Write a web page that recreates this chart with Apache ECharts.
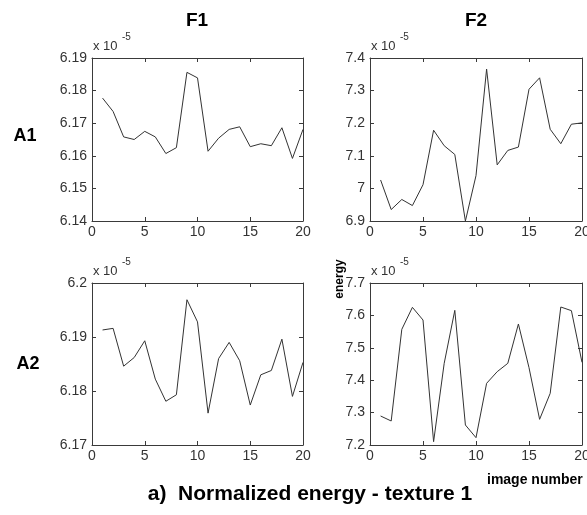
<!DOCTYPE html>
<html>
<head>
<meta charset="utf-8">
<script src="https://cdn.jsdelivr.net/npm/echarts@6/dist/echarts.min.js"></script>
<style>
html,body{margin:0;padding:0;background:#fff;}
#chart{width:587px;height:515px;}
</style>
</head>
<body>
<div id="chart"></div>
<script>
// ---- data (values in units of 1e-5) ----
const imageNumber = [1,2,3,4,5,6,7,8,9,10,11,12,13,14,15,16,17,18,19,20];
const energyF1A1 = [6.1777,6.1736,6.1658,6.1650,6.1675,6.1658,6.1607,6.1625,6.1856,6.1839,6.1614,6.1654,6.1681,6.1689,6.1628,6.1637,6.1631,6.1686,6.1592,6.1681];
const energyF2A1 = [7.0258,6.9351,6.9660,6.9474,7.0113,7.1784,7.1309,7.1041,6.9000,7.0392,7.3660,7.0722,7.1165,7.1268,7.3041,7.3392,7.1814,7.1371,7.1969,7.2010];
const energyF1A2 = [6.1913,6.1916,6.1846,6.1862,6.1893,6.1822,6.1781,6.1793,6.1969,6.1928,6.1759,6.1860,6.1890,6.1856,6.1774,6.1830,6.1838,6.1896,6.1790,6.1853];
const energyF2A2 = [7.2895,7.2741,7.5570,7.6249,7.5858,7.2103,7.4521,7.6156,7.2617,7.2226,7.3903,7.4263,7.4521,7.5735,7.4387,7.2792,7.3595,7.6259,7.6146,7.4551];
const xTicks = [0,5,10,15,20];
const yTicksF1A1 = [6.14,6.15,6.16,6.17,6.18,6.19];
const yTicksF2A1 = [6.9,7.0,7.1,7.2,7.3,7.4];
const yTicksF1A2 = [6.17,6.18,6.19,6.20];
const yTicksF2A2 = [7.2,7.3,7.4,7.5,7.6,7.7];
const colTitles = ['F1','F2'];
const rowTitles = ['A1','A2'];
const scaleNote = 'x 10';
const scaleExp = '-5';

// ---- layout ----
const FONT = "'Liberation Sans', Arial, sans-serif";
const grids = [
  {left:92, top:58, width:211, height:163},
  {left:370, top:58, width:212, height:163},
  {left:92, top:283, width:211, height:162},
  {left:370, top:283, width:212, height:162}
];
const panels = [
  {data: energyF1A1, ticks: yTicksF1A1},
  {data: energyF2A1, ticks: yTicksF2A1},
  {data: energyF1A2, ticks: yTicksF1A2},
  {data: energyF2A2, ticks: yTicksF2A2}
];
const lineCol = '#3a3a3a';
const txtCol = '#333';

function yFmt(v){ return String(+(+v).toFixed(2)); }
function stepOf(t){ return +(t[1]-t[0]).toFixed(4); }

const xAxes = [], yAxes = [], series = [];
panels.forEach((p,i)=>{
  const common = {
    gridIndex:i, type:'value', min:xTicks[0], max:xTicks[xTicks.length-1], interval:xTicks[1]-xTicks[0],
    axisLine:{show:true,onZero:false,lineStyle:{color:lineCol,width:1}},
    axisTick:{show:true,inside:true,length:4,lineStyle:{color:lineCol}},
    splitLine:{show:false}
  };
  xAxes.push(Object.assign({}, common, {position:'bottom',
    axisLabel:{show:true,margin:4,color:txtCol,fontSize:14,fontFamily:FONT}}));
  const ymin = p.ticks[0], ymax = p.ticks[p.ticks.length-1], step = stepOf(p.ticks);
  const ycommon = {
    gridIndex:i, type:'value', min:ymin, max:ymax, interval:step, scale:true,
    axisLine:{show:true,onZero:false,lineStyle:{color:lineCol,width:1}},
    axisTick:{show:true,inside:true,length:4,lineStyle:{color:lineCol}},
    splitLine:{show:false}
  };
  yAxes.push(Object.assign({}, ycommon, {position:'left',
    axisLabel:{show:true,margin:5,color:txtCol,fontSize:14,fontFamily:FONT,formatter:yFmt}}));
  series.push({
    type:'line', xAxisIndex:i, yAxisIndex:i,
    data: imageNumber.map((n,k)=>[n,p.data[k]]),
    showSymbol:false, symbol:'none', clip:true, animation:false,
    lineStyle:{color:'#333',width:1}
  });
});
panels.forEach((p,i)=>{
  xAxes.push({gridIndex:i, type:'value', position:'top', min:xTicks[0], max:xTicks[xTicks.length-1], interval:xTicks[1]-xTicks[0],
    axisLine:{show:true,onZero:false,lineStyle:{color:lineCol,width:1}},
    axisTick:{show:true,inside:true,length:4,lineStyle:{color:lineCol}},
    axisLabel:{show:false}, splitLine:{show:false}});
  const ymin = p.ticks[0], ymax = p.ticks[p.ticks.length-1], step = stepOf(p.ticks);
  yAxes.push({gridIndex:i, type:'value', position:'right', min:ymin, max:ymax, interval:step, scale:true,
    axisLine:{show:true,onZero:false,lineStyle:{color:lineCol,width:1}},
    axisTick:{show:true,inside:true,length:4,lineStyle:{color:lineCol}},
    axisLabel:{show:false}, splitLine:{show:false}});
});

const graphics = [];
function txt(text,x,y,size,weight,align,extra){
  graphics.push(Object.assign({type:'text', x:x, y:y, silent:true,
    style:{text:text, fill:'#000', fontSize:size, fontWeight:weight, fontFamily:FONT,
      align:align||'center', verticalAlign:'middle'}}, extra||{}));
}
txt(colTitles[0], 197, 21, 19, 'bold');
txt(colTitles[1], 476, 21, 19, 'bold');
txt(rowTitles[0], 25, 136, 18, 'bold');
txt(rowTitles[1], 28, 364, 18, 'bold');
grids.forEach(g=>{
  graphics.push({type:'text', x:g.left+1, y:g.top-12, silent:true,
    style:{text:scaleNote, fill:txtCol, fontSize:13, fontFamily:FONT, align:'left', verticalAlign:'middle'}});
  graphics.push({type:'text', x:g.left+30, y:g.top-21, silent:true,
    style:{text:scaleExp, fill:txtCol, fontSize:10, fontFamily:FONT, align:'left', verticalAlign:'middle'}});
});
graphics.push({type:'text', x:340, y:279, rotation:Math.PI/2, silent:true,
  style:{text:'energy', fill:'#000', fontSize:12, fontWeight:'bold', fontFamily:FONT, align:'center', verticalAlign:'middle'}});
txt('image number', 487, 480, 14, 'bold', 'left');
txt('a)  Normalized energy - texture 1', 310, 494, 21, 'bold');

const chart = echarts.init(document.getElementById('chart'), null, {renderer:'canvas'});
chart.setOption({
  animation:false,
  backgroundColor:'#fff',
  grid: grids.map(g=>Object.assign({containLabel:false, outerBoundsMode:'none'}, g)),
  xAxis: xAxes,
  yAxis: yAxes,
  series: series,
  graphic: graphics
});
</script>
</body>
</html>
